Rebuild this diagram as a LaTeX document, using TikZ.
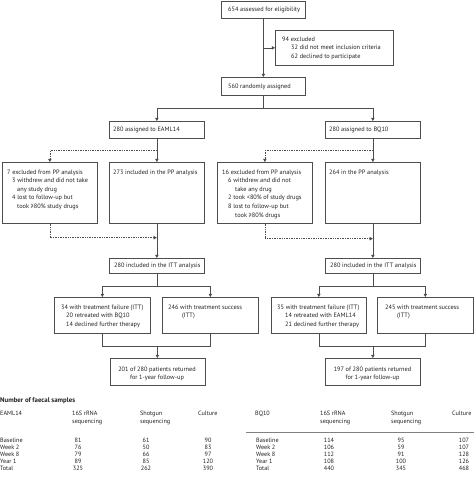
\documentclass[tikz,border=0pt]{standalone}
\usepackage{fontspec}
\setmainfont{PT Sans}
\usetikzlibrary{arrows.meta,calc}
\definecolor{linegray}{HTML}{4D4D4D}
\definecolor{txtgray}{HTML}{231F20}
% first line of a stack sits on the node's base
\newcommand{\boxlines}[1]{\begin{tabular}[t]{@{}l@{}}#1\end{tabular}}
\newcommand{\boxlinesc}[1]{\begin{tabular}[t]{@{}c@{}}#1\end{tabular}}
\tikzset{
  box/.style={draw=linegray, line width=0.7pt, anchor=north west, inner sep=0pt},
  txt/.style={anchor=base west, inner sep=0pt, text=txtgray,
    font=\fontsize{6.3}{8.6}\selectfont},
  ctxt/.style={txt, anchor=base},
  arr/.style={draw=linegray, line width=0.7pt, -{Triangle[length=3.2pt,width=3.4pt]}},
  link/.style={draw=linegray, line width=0.7pt},
  dots/.style={arr, densely dotted, line width=0.6pt},
  cell/.style={anchor=base, inner sep=0pt, text=txtgray, font=\fontsize{6.2}{8.6}\selectfont},
  lcell/.style={cell, anchor=base west},
}
\begin{document}
\begin{tikzpicture}[x=1pt, y=-1pt]
  \useasboundingbox (0,0) rectangle (474,477);

  % enrolment
  \node[box, minimum width=84, minimum height=17.5] (elig) at (221,0.5) {};
  \node[txt] (eligT) at (228,11.5) {654 assessed for eligibility};
  \node[box, minimum width=118, minimum height=35] (excl) at (275,30) {};
  \node[txt] (exclT) at (282,41.3) {\boxlines{94 excluded\\\hspace*{9pt}32 did not meet inclusion criteria\\\hspace*{9pt}62 declined to participate}};
  \node[box, minimum width=84, minimum height=18] (rand) at (221,77) {};
  \node[txt] (randT) at (228,88) {560 randomly assigned};

  \draw[arr] (elig) -- (rand);
  \draw[arr] (elig.south |- excl.west) -- (excl.west);
  \coordinate (split) at ($(rand.south)+(0,13)$);
  \draw[link] (rand) -- (split);

  % EAML14 arm
  \node[box, minimum width=95, minimum height=17] (armA) at (109,121) {};
  \node[txt] (armAT) at (113,131.5) {280 assigned to EAML14};
  \node[box, minimum width=95, minimum height=61] (exclA) at (2,162) {};
  \node[txt] (exclAT) at (7,174) {\boxlines{7 excluded from PP analysis\\\hspace*{5pt}3 withdrew and did not take\\\hspace*{10pt}any study drug\\\hspace*{5pt}4 lost to follow-up but\\\hspace*{10pt}took ≥80\% study drugs}};
  \node[box, minimum width=95, minimum height=61] (ppA) at (109,162) {};
  \node[txt] (ppAT) at (113,174) {273 included in the PP analysis};
  \node[box, minimum width=95, minimum height=15] (ittA) at (109,258) {};
  \node[txt] (ittAT) at (114,267.5) {280 included in the ITT analysis};
  \node[box, minimum width=96, minimum height=36] (failA) at (54,297) {};
  \node[txt] (failAT) at (61,309) {\boxlines{34 with treatment failure (ITT)\\\hspace*{5pt}20 retreated with BQ10\\\hspace*{5pt}14 declined further therapy}};
  \node[box, minimum width=96, minimum height=36] (succA) at (162,297) {};
  \node[txt] (succAT) at (168,309) {\boxlines{246 with treatment success\\\hspace*{14pt}(ITT)}};
  \node[box, minimum width=95, minimum height=27] (fuA) at (109.5,358) {};
  \node[ctxt] (fuAT) at (157,371) {\boxlinesc{201 of 280 patients returned\\for 1-year follow-up}};

  \draw[arr] (split) -| (armA);
  \draw[arr] (armA) -- (ppA);
  \draw[dots] ($(armA.south)+(0,12)$) -| (exclA.north);
  \draw[arr] (ppA) -- (ittA);
  \draw[dots] (exclA.south) |- ($(ppA.south)+(0,14)$);
  \coordinate (ittAsplit) at ($(ittA.south)+(0,12.5)$);
  \draw[link] (ittA) -- (ittAsplit);
  \draw[arr] (ittAsplit) -| (failA);
  \draw[arr] (ittAsplit) -| (succA);
  \draw[link] (failA.south) -- ++(0,13) -| (succA.south);
  \draw[arr] (fuA.north |- 0,346) -- (fuA);

  % BQ10 arm
  \node[box, minimum width=95, minimum height=17] (armB) at (325,121) {};
  \node[txt] (armBT) at (329,131.5) {280 assigned to BQ10};
  \node[box, minimum width=95, minimum height=61] (exclB) at (217,162) {};
  \node[txt] (exclBT) at (222,174) {\boxlines{16 excluded from PP analysis\\\hspace*{6pt}6 withdrew and did not\\\hspace*{13pt}take any drug\\\hspace*{6pt}2 took <80\% of study drugs\\\hspace*{6pt}8 lost to follow-up but\\\hspace*{13pt}took ≥80\% drugs}};
  \node[box, minimum width=95, minimum height=61] (ppB) at (325,162) {};
  \node[txt] (ppBT) at (329,174) {264 in the PP analysis};
  \node[box, minimum width=95, minimum height=15] (ittB) at (325,258) {};
  \node[txt] (ittBT) at (330,267.5) {280 included in the ITT analysis};
  \node[box, minimum width=95, minimum height=36] (failB) at (271,297) {};
  \node[txt] (failBT) at (277,309) {\boxlines{35 with treatment failure (ITT)\\\hspace*{8pt}14 retreated with EAML14\\\hspace*{8pt}21 declined further therapy}};
  \node[box, minimum width=96, minimum height=36] (succB) at (377,297) {};
  \node[txt] (succBT) at (385,309) {\boxlines{245 with treatment success\\\hspace*{12pt}(ITT)}};
  \node[box, minimum width=95, minimum height=27] (fuB) at (325,358) {};
  \node[ctxt] (fuBT) at (372.5,371) {\boxlinesc{197 of 280 patients returned\\for 1-year follow-up}};

  \draw[arr] (split) -| (armB);
  \draw[arr] (armB) -- (ppB);
  \draw[dots] ($(armB.south)+(0,12)$) -| (exclB.north);
  \draw[arr] (ppB) -- (ittB);
  \draw[dots] (exclB.south) |- ($(ppB.south)+(0,15)$);
  \coordinate (ittBsplit) at ($(ittB.south)+(0,12.5)$);
  \draw[link] (ittB) -- (ittBsplit);
  \draw[arr] (ittBsplit) -| (failB);
  \draw[arr] (ittBsplit) -| (succB);
  \draw[link] (failB.south) -- ++(0,13) -| (succB.south);
  \draw[arr] (fuB.north |- 0,346) -- (fuB);

  % faecal samples table
  \node[lcell, font=\fontsize{6.8}{8.6}\selectfont\bfseries] (tabT) at (0,402) {Number of faecal samples};
  \node[lcell] (hA) at (0,415) {EAML14};
  \node[lcell] (hA1) at (72,415) {\boxlines{16S rRNA\\sequencing}};
  \node[lcell] (hA2) at (140,415) {\boxlines{Shotgun\\sequencing}};
  \node[lcell] (hA3) at (198,415) {Culture};
  \node[lcell] (hB) at (255,415) {BQ10};
  \node[lcell] (hB1) at (320,415) {\boxlines{16S rRNA\\sequencing}};
  \node[lcell] (hB2) at (391,415) {\boxlines{Shotgun\\sequencing}};
  \node[lcell] (hB3) at (452,415) {Culture};
  \draw[draw=gray, line width=0.5pt] (246,432) -- (474,432);
  \foreach \r/\lab/\a/\b/\c/\d/\e/\f [count=\i] in {
      0/Baseline/81/61/90/114/95/107,
      7/Week 2/76/50/83/106/59/107,
      14/Week 8/79/66/97/112/91/128,
      21/Year 1/89/85/120/108/100/126,
      28/Total/325/262/390/440/345/468} {
    \node[lcell] (rA\i) at (0,442+\r) {\lab};
    \node[cell] (rA\i a) at (78,442+\r) {\a};
    \node[cell] (rA\i b) at (146,442+\r) {\b};
    \node[cell] (rA\i c) at (208,442+\r) {\c};
    \node[lcell] (rB\i) at (256,442+\r) {\lab};
    \node[cell] (rB\i a) at (329,442+\r) {\d};
    \node[cell] (rB\i b) at (401,442+\r) {\e};
    \node[cell] (rB\i c) at (464,442+\r) {\f};
  }
\end{tikzpicture}
\end{document}
